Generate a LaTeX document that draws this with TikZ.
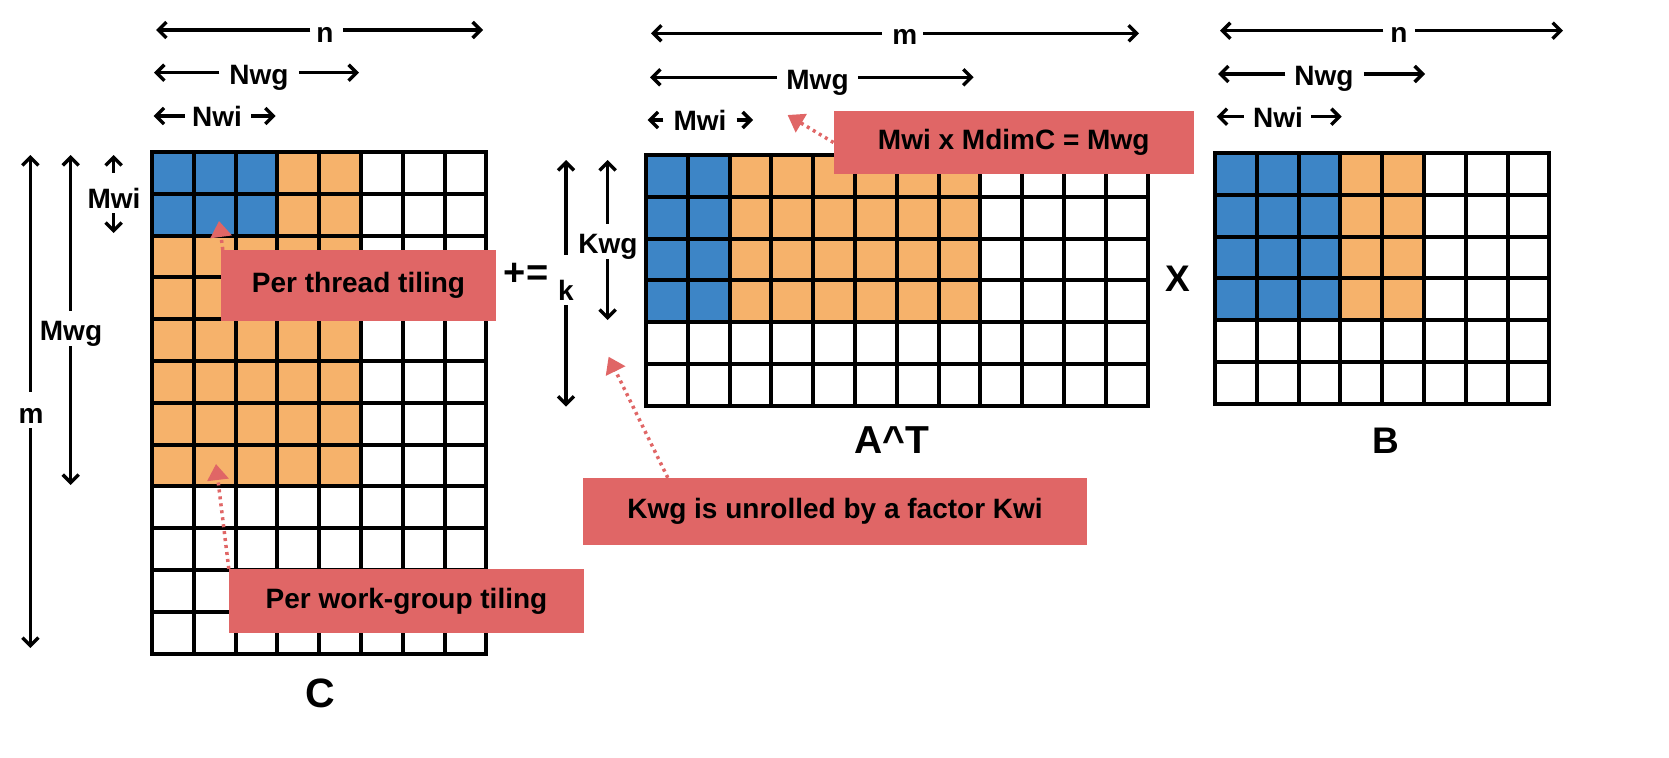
\documentclass[tikz,border=0pt]{standalone}
\usepackage{fontspec}
\setmainfont{Liberation Sans}
\usetikzlibrary{arrows.meta}
\definecolor{cblue}{RGB}{61,133,198}
\definecolor{corange}{RGB}{246,178,107}
\definecolor{csalmon}{RGB}{224,102,102}
\begin{document}
\begin{tikzpicture}[x=1pt,y=-1pt,
  dimarrow/.style={line width=3.2pt, -{Straight Barb[length=8pt,width=16pt,line width=3.4pt]}},
  lbl/.style={inner sep=0pt, font=\bfseries\fontsize{28}{30}\selectfont},
  big/.style={inner sep=0pt, font=\bfseries\fontsize{39}{42}\selectfont},
  notebox/.style={fill=csalmon, inner sep=0pt, font=\bfseries\fontsize{28}{32}\selectfont},
  noteptr/.style={draw=csalmon, line width=3.5pt, dash pattern=on 3pt off 4pt, -{Triangle[length=16pt,width=21pt,fill=csalmon]}},
  gridline/.style={line width=4pt, line cap=rect},
]
\useasboundingbox (0,0) rectangle (1669,757);

% ---------------- matrix C ----------------
\fill[corange] (152,152) rectangle (361,486.4);
\fill[cblue] (152,152) rectangle (277.4,235.6);
\foreach \i in {0,...,8} \draw[gridline] (152+\i*41.8,152) -- (152+\i*41.8,653.6);
\foreach \j in {0,...,12} \draw[gridline] (152,152+\j*41.8) -- (486.4,152+\j*41.8);

% ---------------- matrix A^T ----------------
\fill[corange] (646,155) rectangle (980.4,322.2);
\fill[cblue] (646,155) rectangle (729.6,322.2);
\foreach \i in {0,...,12} \draw[gridline] (646+\i*41.8,155) -- (646+\i*41.8,405.8);
\foreach \j in {0,...,6} \draw[gridline] (646,155+\j*41.8) -- (1147.6,155+\j*41.8);

% ---------------- matrix B ----------------
\fill[corange] (1215,153) rectangle (1424,320.2);
\fill[cblue] (1215,153) rectangle (1340.4,320.2);
\foreach \i in {0,...,8} \draw[gridline] (1215+\i*41.8,153) -- (1215+\i*41.8,403.8);
\foreach \j in {0,...,6} \draw[gridline] (1215,153+\j*41.8) -- (1549.4,153+\j*41.8);

% ---------------- big labels ----------------
\node[big, anchor=base, font=\bfseries\fontsize{41}{44}\selectfont] (lC) at (320,707) {C};
\node[big, anchor=base] (lA) at (892,453) {A\^{}T};
\node[big, anchor=base, font=\bfseries\fontsize{37}{40}\selectfont] (lB) at (1386,453) {B};
\node[big, anchor=base, font=\bfseries\fontsize{37}{40}\selectfont] (lX) at (1178,291.7) {X};
\node[big, font=\bfseries\fontsize{38}{40}\selectfont] (lpe) at (526,274) {+=};

% ---------------- C dimension arrows ----------------
\node[lbl, anchor=base] (Cn) at (325,43) {n};
\coordinate (CnL) at (156,30); \coordinate (CnR) at (483,30);
\draw[dimarrow] ([xshift=-6pt]Cn.west |- CnL) -- (CnL);
\draw[dimarrow] ([xshift=9pt]Cn.east |- CnR) -- (CnR);

\node[lbl, anchor=base] (CNwg) at (259,85) {Nwg};
\coordinate (CNwgL) at (154,72.7); \coordinate (CNwgR) at (359,72.7);
\draw[dimarrow] ([xshift=-10pt]CNwg.west |- CNwgL) -- (CNwgL);
\draw[dimarrow] ([xshift=10pt]CNwg.east |- CNwgR) -- (CNwgR);

\node[lbl, anchor=base] (CNwi) at (217,127) {Nwi};
\coordinate (CNwiL) at (153.6,116); \coordinate (CNwiR) at (275.7,116);
\draw[dimarrow] ([xshift=-7pt]CNwi.west |- CNwiL) -- (CNwiL);
\draw[dimarrow] ([xshift=9pt]CNwi.east |- CNwiR) -- (CNwiR);

\node[lbl, anchor=base] (Cm) at (31,423) {m};
\coordinate (CmT) at (30.4,155); \coordinate (CmB) at (30.4,648);
\draw[dimarrow] ([yshift=16pt]Cm.north -| CmT) -- (CmT);
\draw[dimarrow] ([yshift=-5pt]Cm.south -| CmB) -- (CmB);

\node[lbl, anchor=base] (CMwg) at (71,340) {Mwg};
\coordinate (CMwgT) at (70.7,155); \coordinate (CMwgB) at (70.7,485);
\draw[dimarrow] ([yshift=10pt]CMwg.north -| CMwgT) -- (CMwgT);
\draw[dimarrow] ([yshift=0pt]CMwg.south -| CMwgB) -- (CMwgB);

\node[lbl, anchor=base] (CMwi) at (114,208) {Mwi};
\coordinate (CMwiT) at (113.6,155); \coordinate (CMwiB) at (113.6,233);
\draw[dimarrow] ([yshift=15pt]CMwi.north -| CMwiT) -- (CMwiT);
\draw[dimarrow] ([yshift=-5pt]CMwi.south -| CMwiB) -- (CMwiB);

% ---------------- A dimension arrows ----------------
\node[lbl, anchor=base] (Am) at (904.7,45) {m};
\coordinate (AmL) at (651,33.3); \coordinate (AmR) at (1139,33.3);
\draw[dimarrow] ([xshift=-10pt]Am.west |- AmL) -- (AmL);
\draw[dimarrow] ([xshift=6pt]Am.east |- AmR) -- (AmR);

\node[lbl, anchor=base] (AMwg) at (817.5,90) {Mwg};
\coordinate (AMwgL) at (650,77.3); \coordinate (AMwgR) at (973.6,77.3);
\draw[dimarrow] ([xshift=-9pt]AMwg.west |- AMwgL) -- (AMwgL);
\draw[dimarrow] ([xshift=9pt]AMwg.east |- AMwgR) -- (AMwgR);

\node[lbl, anchor=base] (AMwi) at (700,130) {Mwi};
\coordinate (AMwiL) at (647.6,120); \coordinate (AMwiR) at (753,120);
\draw[dimarrow] ([xshift=-10pt]AMwi.west |- AMwiL) -- (AMwiL);
\draw[dimarrow] ([xshift=10pt]AMwi.east |- AMwiR) -- (AMwiR);

\node[lbl, anchor=base] (Ak) at (566,300) {k};
\coordinate (AkT) at (566,160); \coordinate (AkB) at (566,406.7);
\draw[dimarrow] ([yshift=25pt]Ak.north -| AkT) -- (AkT);
\draw[dimarrow] ([yshift=-5pt]Ak.south -| AkB) -- (AkB);

\node[lbl, anchor=base] (AKwg) at (608,253) {Kwg};
\coordinate (AKwgT) at (607.6,160); \coordinate (AKwgB) at (607.6,320);
\draw[dimarrow] ([yshift=10pt]AKwg.north -| AKwgT) -- (AKwgT);
\draw[dimarrow] ([yshift=0pt]AKwg.south -| AKwgB) -- (AKwgB);

% ---------------- B dimension arrows ----------------
\node[lbl, anchor=base] (Bn) at (1399,43) {n};
\coordinate (BnL) at (1220,30.7); \coordinate (BnR) at (1563,30.7);
\draw[dimarrow] ([xshift=-7pt]Bn.west |- BnL) -- (BnL);
\draw[dimarrow] ([xshift=7pt]Bn.east |- BnR) -- (BnR);

\node[lbl, anchor=base] (BNwg) at (1324,86) {Nwg};
\coordinate (BNwgL) at (1218,74); \coordinate (BNwgR) at (1425,74);
\draw[dimarrow] ([xshift=-9pt]BNwg.west |- BNwgL) -- (BNwgL);
\draw[dimarrow] ([xshift=10pt]BNwg.east |- BNwgR) -- (BNwgR);

\node[lbl, anchor=base] (BNwi) at (1278,128) {Nwi};
\coordinate (BNwiL) at (1216.7,116.7); \coordinate (BNwiR) at (1341.7,116.7);
\draw[dimarrow] ([xshift=-9pt]BNwi.west |- BNwiL) -- (BNwiL);
\draw[dimarrow] ([xshift=8pt]BNwi.east |- BNwiR) -- (BNwiR);

% ---------------- note boxes ----------------
\node[notebox, minimum width=275pt, minimum height=70.7pt] (PT) at (358.5,285.4) {Per thread tiling};
\node[notebox, minimum width=355pt, minimum height=63.7pt] (PW) at (406.5,600.9) {Per work-group tiling};
\node[notebox, minimum width=360pt, minimum height=63pt] (MB) at (1013.7,142.5) {Mwi x MdimC = Mwg};
\node[notebox, minimum width=504pt, minimum height=67pt] (KB) at (835,511.5) {Kwg is unrolled by a factor Kwi};

\coordinate (PTtip) at (219,221);
\coordinate (PWtip) at (216,464);
\coordinate (MBtip) at (787.6,115);
\coordinate (KBtip) at (608.6,356.7);
\draw[noteptr] ([xshift=2pt]PT.north west) -- (PTtip);
\draw[noteptr] (PW.north west) -- (PWtip);
\draw[noteptr] (MB.west) -- (MBtip);
\draw[noteptr] ([xshift=85pt]KB.north west) -- (KBtip);
\end{tikzpicture}
\end{document}
